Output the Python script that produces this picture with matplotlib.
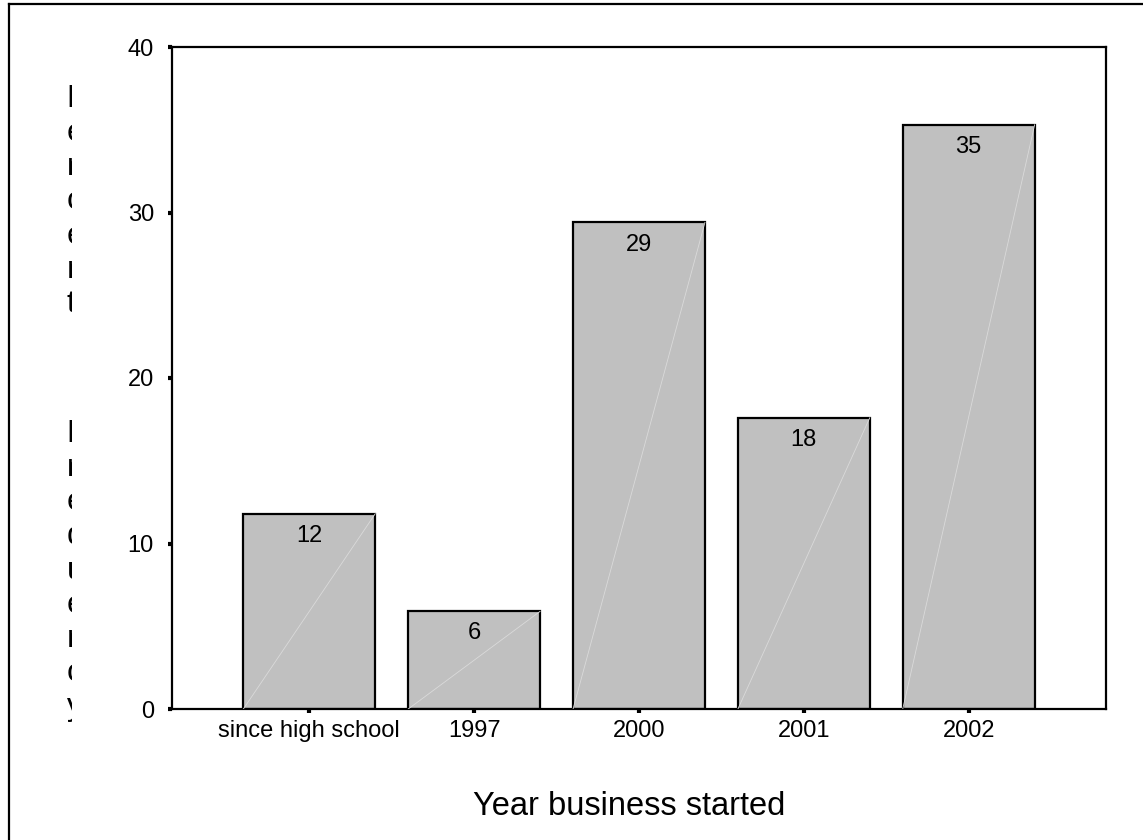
import matplotlib
matplotlib.use("Agg")
import matplotlib.pyplot as plt
from matplotlib.lines import Line2D
from matplotlib.transforms import Bbox, TransformedBbox

# Data: percent of businesses by start year
categories = ["since high school", "1997", "2000", "2001", "2002"]
percents = [11.8, 5.9, 29.4, 17.6, 35.3]
y_ticks = [0, 10, 20, 30, 40]

W, H = 1143, 840
plt.rcParams["font.family"] = ["Liberation Sans", "DejaVu Sans"]

fig = plt.figure(figsize=(W / 100, H / 100), dpi=100)
ax = fig.add_axes([172 / W, 1 - 709 / H, (1106 - 172) / W, (709 - 47) / H])

x = list(range(len(categories)))
bar_w = 0.8
ax.bar(x, percents, width=bar_w, color="#c0c0c0", edgecolor="black",
       linewidth=1.6, zorder=2)

# faint diagonal highlight across each bar
for xi, v in zip(x, percents):
    ax.plot([xi - bar_w / 2, xi + bar_w / 2], [0, v], color="#dadada",
            linewidth=0.6, zorder=3)
    ax.annotate(f"{v:.0f}", xy=(xi, v), xytext=(0, -8),
                textcoords="offset points", ha="center", va="top",
                fontsize=17, zorder=4)

ax.set_xlim(-0.833, 4.833)
ax.set_ylim(0, 40)
ax.set_yticks(y_ticks)
ax.set_xticks(x)
ax.set_xticklabels(categories)
ax.tick_params(axis="both", direction="out", length=3, width=3,
               labelsize=17, color="black")
ax.tick_params(axis="y", pad=10)
ax.tick_params(axis="x", pad=5)
for s in ax.spines.values():
    s.set_linewidth(1.6)

ax.set_xlabel("Year business started", fontsize=23.5, va="center")
ax.xaxis.set_label_coords(0.489, -0.148)

# stacked axis title, cut off at its right side
clip = TransformedBbox(Bbox.from_extents(0, 0, 72 / W, 1), fig.transFigure)
for word, top in (("Percent", 84), ("Frequency", 419)):
    t = fig.text(66.5 / W, 1 - top / H, "\n".join(word), ha="left", va="top",
                 fontsize=23, linespacing=1.18)
    t.set_clip_box(clip)
    t.set_clip_on(True)

# outer frame
fig.add_artist(Line2D([9 / W, 1], [1 - 4 / H, 1 - 4 / H], color="black",
                      linewidth=1.6, transform=fig.transFigure))
fig.add_artist(Line2D([9 / W, 9 / W], [0, 1 - 4 / H], color="black",
                      linewidth=1.6, transform=fig.transFigure))

fig.savefig("out.png", dpi=100)
